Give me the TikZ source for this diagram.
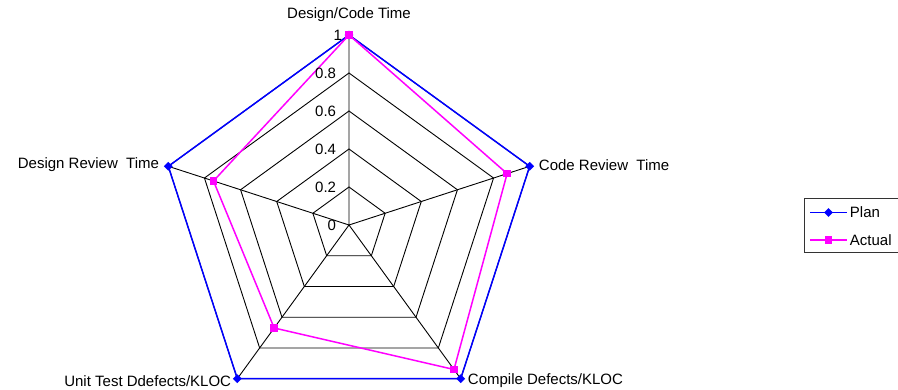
\documentclass[tikz,border=0pt]{standalone}
\usepackage{fontspec}
\setmainfont{Liberation Sans}
\usepackage{tikz}
\usepackage{xcolor}
\usetikzlibrary{shapes.geometric, calc}

\definecolor{planblue}{RGB}{0,0,255}
\definecolor{actualpink}{RGB}{255,0,255}

\tikzset{
  gridline/.style={color=black, line width=0.9},
  planline/.style={color=planblue, line width=1.5},
  actualline/.style={color=actualpink, line width=1.5},
  planmark/.style={diamond, fill=planblue, inner sep=0, minimum size=9},
  actualmark/.style={rectangle, fill=actualpink, inner sep=0, minimum size=7.5},
  lbl/.style={inner sep=0.75, font=\fontsize{15}{18}\selectfont},
}

\begin{document}
\begin{tikzpicture}[x=1pt,y=1pt,yscale=-1,xscale=1]
    \useasboundingbox (0,0) rectangle (898,389);

    % Axis ends
    \coordinate (O) at (349,225);
    \coordinate (dct) at (349,35);
    \coordinate (crt) at (529.70,166.29);
    \coordinate (cdk) at (460.68,378.71);
    \coordinate (utk) at (237.32,378.71);
    \coordinate (drt) at (168.30,166.29);

    %Straight Lines
    \draw [gridline] (O) -- (dct) (O) -- (crt) (O) -- (cdk) (O) -- (utk) (O) -- (drt);
    %Polygon rings
    \draw [gridline] ($(O)!0.2!(dct)$) -- ($(O)!0.2!(crt)$) -- ($(O)!0.2!(cdk)$) -- ($(O)!0.2!(utk)$) -- ($(O)!0.2!(drt)$) -- cycle;
    \draw [gridline] ($(O)!0.4!(dct)$) -- ($(O)!0.4!(crt)$) -- ($(O)!0.4!(cdk)$) -- ($(O)!0.4!(utk)$) -- ($(O)!0.4!(drt)$) -- cycle;
    \draw [gridline] ($(O)!0.6!(dct)$) -- ($(O)!0.6!(crt)$) -- ($(O)!0.6!(cdk)$) -- ($(O)!0.6!(utk)$) -- ($(O)!0.6!(drt)$) -- cycle;
    \draw [gridline] ($(O)!0.8!(dct)$) -- ($(O)!0.8!(crt)$) -- ($(O)!0.8!(cdk)$) -- ($(O)!0.8!(utk)$) -- ($(O)!0.8!(drt)$) -- cycle;
    \draw [gridline] (dct) -- (crt) -- (cdk) -- (utk) -- (drt) -- cycle;

    % Plan
    \draw [planline] (dct) -- (crt) -- (cdk) -- (utk) -- (drt) -- cycle;
    \node (p1) [planmark] at (dct) {};
    \node (p2) [planmark] at (crt) {};
    \node (p3) [planmark] at (cdk) {};
    \node (p4) [planmark] at (utk) {};
    \node (p5) [planmark] at (drt) {};

    % Actual
    \coordinate (a1) at (dct);
    \coordinate (a2) at ($(O)!0.875!(crt)$);
    \coordinate (a3) at ($(O)!0.94!(cdk)$);
    \coordinate (a4) at ($(O)!0.67!(utk)$);
    \coordinate (a5) at ($(O)!0.75!(drt)$);
    \draw [actualline] (a1) -- (a2) -- (a3) -- (a4) -- (a5) -- cycle;
    \node (q1) [actualmark] at (a1) {};
    \node (q2) [actualmark] at (a2) {};
    \node (q3) [actualmark] at (a3) {};
    \node (q4) [actualmark] at (a4) {};
    \node (q5) [actualmark] at (a5) {};

    % Text Node
    \draw (337,225) node (t0) [anchor=east][lbl] {0};
    \draw (337,187) node (t2) [anchor=east][lbl] {0.2};
    \draw (337,149) node (t4) [anchor=east][lbl] {0.4};
    \draw (337,111) node (t6) [anchor=east][lbl] {0.6};
    \draw (337,73) node (t8) [anchor=east][lbl] {0.8};
    \draw (343,35) node (t10) [anchor=east][lbl] {1};
    % Text Node
    \draw (349,15) node (ldct) [lbl] {Design/Code Time};
    \draw (538,165) node (lcrt) [anchor=west][lbl] {Code Review\ \ Time};
    \draw (467,381) node (lcdk) [anchor=west][lbl] {Compile Defects/KLOC};
    \draw (232,381) node (lutk) [anchor=east][lbl] {Unit Test Ddefects/KLOC};
    \draw (160,165) node (ldrt) [anchor=east][lbl] {Design Review\ \ Time};

    % Legend
    \draw [color=black!80, line width=0.9] (804,198.5) rectangle (899,252.5);
    \coordinate (lp1) at (810,212.5);
    \coordinate (lp2) at (847,212.5);
    \coordinate (la1) at (810,240);
    \coordinate (la2) at (847,240);
    \draw [planline] (lp1) -- (lp2);
    \node (lpm) [planmark] at ($(lp1)!0.5!(lp2)$) {};
    \draw [actualline] (la1) -- (la2);
    \node (lam) [actualmark] at ($(la1)!0.5!(la2)$) {};
    \draw (849,212.5) node (lplan) [anchor=west][lbl] {Plan};
    \draw (849,240) node (lact) [anchor=west][lbl] {Actual};
\end{tikzpicture}
\end{document}
